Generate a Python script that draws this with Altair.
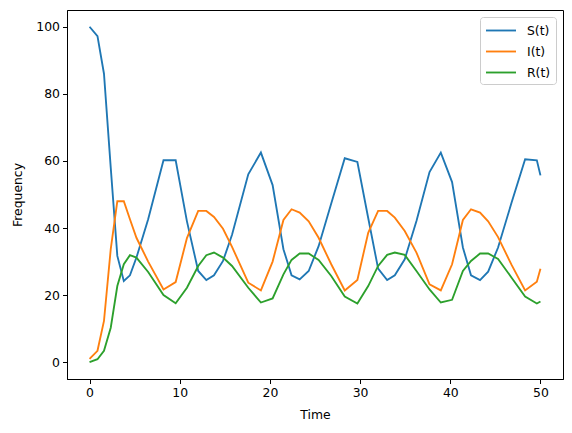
import altair as alt
import pandas as pd

t = [0, 0.88, 1.6, 2.35, 3.08, 3.8, 4.48, 5.2, 6.5, 8.2, 9.55, 10.8, 12.05, 12.95, 13.8, 14.8, 15.8,
     17.6, 19.0, 20.3, 21.5, 22.4, 23.3, 24.3, 25.4, 26.8, 28.3, 29.7, 30.9, 32.0, 33.0, 33.85, 34.95,
     36.25, 37.7, 38.95, 40.2, 41.4, 42.3, 43.3, 44.2, 45.3, 46.8, 48.3, 49.6, 50.0]

S = [100, 97.2, 86, 58, 31.7, 24.2, 25.9, 31.2, 42.6, 60.2, 60.2, 42, 27.2, 24.5, 25.9, 30.2, 38,
     56, 62.5, 52.8, 33.7, 25.9, 24.7, 27.2, 34.6, 47.3, 60.8, 59.7, 43, 27.9, 24.5, 25.9, 30.7,
     42.1, 56.7, 62.5, 53.7, 34.2, 25.9, 24.5, 27.0, 34.2, 47.6, 60.5, 60.2, 55.7]

I = [1.0, 3.4, 12.3, 33.7, 48, 48, 42.6, 37.1, 30, 21.7, 23.9, 37, 45.1, 45.1, 43.3, 39.8, 34.4,
     23.7, 21.4, 30, 42.4, 45.6, 44.6, 42, 37.1, 29.2, 21.4, 24.5, 38.6, 45.1, 45.1, 43.1, 39.1,
     32.7, 23.2, 21.4, 29.2, 42.4, 45.6, 44.6, 42, 37.3, 29, 21.4, 24, 27.9]

R = [0, 0.9, 3.4, 10.3, 22.7, 29.2, 31.9, 31.2, 26.9, 20, 17.6, 22.2, 28.7, 31.9, 32.7, 31.2, 28.7,
     22.2, 17.8, 19, 26.2, 30.5, 32.4, 32.4, 30.5, 25.7, 19.6, 17.5, 22.7, 28.7, 32.0, 32.7, 32,
     27.2, 21.7, 17.8, 18.6, 27.2, 30.2, 32.4, 32.4, 30.8, 25.2, 19.6, 17.5, 18.1]

series_names = ["S(t)", "I(t)", "R(t)"]
series_colors = ["#1f77b4", "#ff7f0e", "#2ca02c"]

rows = []
for name, vals in zip(series_names, [S, I, R]):
    for i, (tt, v) in enumerate(zip(t, vals)):
        rows.append({"Time": tt, "Frequency": v, "series": name, "order": i})
df = pd.DataFrame(rows)

FONT = "DejaVu Sans"
FS = 12.4

chart = alt.Chart(df).mark_line(strokeWidth=1.86, clip=True).encode(
    x=alt.X("Time:Q", scale=alt.Scale(domain=[-2.5, 52.5], nice=False, zero=False),
            axis=alt.Axis(values=[0, 10, 20, 30, 40, 50], title="Time", format="d", titlePadding=10)),
    y=alt.Y("Frequency:Q", scale=alt.Scale(domain=[-5, 105], nice=False, zero=False),
            axis=alt.Axis(values=[0, 20, 40, 60, 80, 100], title="Frequency", format="d", titlePadding=11)),
    color=alt.Color("series:N", sort=series_names,
                    scale=alt.Scale(domain=series_names, range=series_colors),
                    legend=alt.Legend(title=None, orient="top-right", offset=7,
                                      symbolType="M-1,0H3", symbolSize=225, symbolStrokeWidth=1.86,
                                      labelFont=FONT, labelFontSize=FS, labelColor="black",
                                      labelOffset=25, rowPadding=6, padding=5,
                                      strokeColor="#cccccc", cornerRadius=3, fillColor="white")),
    order="order:Q",
).properties(
    width=496, height=369,
    autosize=alt.AutoSizeParams(type="none"),
    padding={"left": 59, "top": 2, "right": 1, "bottom": 46},
).configure_view(
    stroke="black", strokeWidth=1
).configure_axis(
    grid=False, domainColor="black", domainWidth=1, tickColor="black", tickWidth=1,
    tickSize=4.5, labelFont=FONT, labelFontSize=FS, labelColor="black", labelPadding=3,
    titleFont=FONT, titleFontSize=FS, titleFontWeight="normal", titleColor="black"
)

chart.save("out.html", embed_options={"renderer": "svg", "actions": False})
